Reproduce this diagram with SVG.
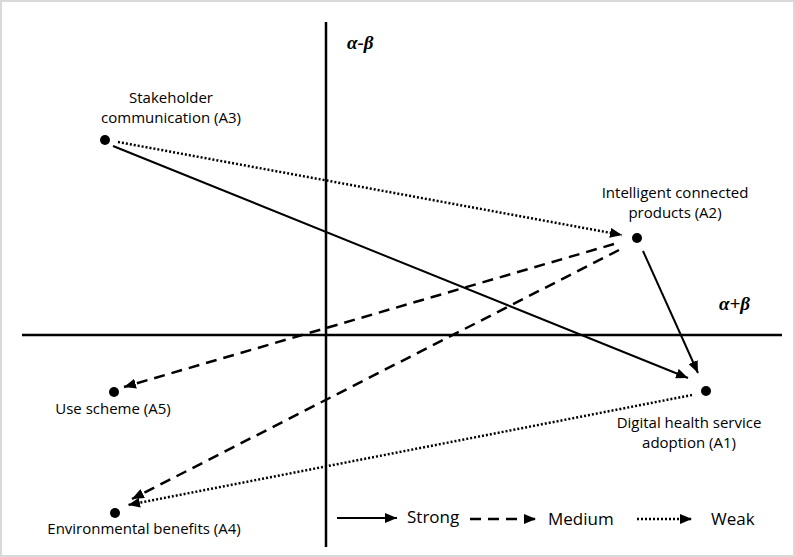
<svg xmlns="http://www.w3.org/2000/svg" width="795" height="557" viewBox="0 0 795 557">
<defs>
<style>
.lbl{font-family:"Open Sans","Liberation Sans",sans-serif;font-size:15px;fill:#000;text-anchor:middle}
.leg{font-family:"Open Sans","Liberation Sans",sans-serif;font-size:17px;fill:#000}
.ax{font-family:"Liberation Serif",serif;font-size:19px;font-weight:bold;font-style:italic;fill:#000}
.axis{stroke:#000;stroke-width:2.5;fill:none}
.strong{stroke:#000;stroke-width:2;fill:none}
.medium{stroke:#000;stroke-width:2.5;fill:none;stroke-dasharray:11 7}
.weak{stroke:#000;stroke-width:2.5;fill:none;stroke-dasharray:2 2}
.dot{fill:#000}
</style>
<marker id="ah" markerUnits="userSpaceOnUse" markerWidth="12" markerHeight="10" viewBox="0 0 12 10" refX="12" refY="5" orient="auto">
<path d="M0,0 L12,5 L0,10 Z" fill="#000"/>
</marker>
</defs>
<rect x="1" y="1" width="793" height="555" fill="#fff" stroke="#d9d9d9" stroke-width="2"/>
<g id="axes">
<line class="axis" x1="326" y1="22" x2="326" y2="547"/>
<line class="axis" x1="22" y1="335" x2="782" y2="335"/>
<text class="ax" x="347" y="49">α-β</text>
<text class="ax" x="719" y="310">α+β</text>
</g>
<g id="connectors">
<line class="strong" x1="113" y1="146" x2="688" y2="378" marker-end="url(#ah)"/>
<line class="weak" x1="118" y1="142" x2="622" y2="235" marker-end="url(#ah)"/>
<line class="strong" x1="643" y1="251" x2="698" y2="373" marker-end="url(#ah)"/>
<line class="medium" x1="614" y1="244" x2="124" y2="387" marker-end="url(#ah)"/>
<line class="medium" x1="619" y1="250" x2="132" y2="499" marker-end="url(#ah)"/>
<line class="weak" x1="692" y1="395" x2="128" y2="505" marker-end="url(#ah)"/>
</g>
<g id="A3">
<circle class="dot" cx="105" cy="140" r="5"/>
<text class="lbl" x="171" y="103">Stakeholder</text>
<text class="lbl" x="171" y="123">communication (A3)</text>
</g>
<g id="A2">
<circle class="dot" cx="637" cy="238" r="5"/>
<text class="lbl" x="675" y="198">Intelligent connected</text>
<text class="lbl" x="675" y="218">products (A2)</text>
</g>
<g id="A1">
<circle class="dot" cx="706" cy="391" r="5"/>
<text class="lbl" x="689" y="428">Digital health service</text>
<text class="lbl" x="689" y="448">adoption (A1)</text>
</g>
<g id="A5">
<circle class="dot" cx="114" cy="392" r="5"/>
<text class="lbl" x="113" y="414">Use scheme (A5)</text>
</g>
<g id="A4">
<circle class="dot" cx="115" cy="513" r="5"/>
<text class="lbl" x="144" y="534">Environmental benefits (A4)</text>
</g>
<g id="legend">
<line class="strong" x1="337" y1="518" x2="397" y2="518" marker-end="url(#ah)"/>
<text class="leg" x="407" y="523">Strong</text>
<line class="medium" x1="470" y1="519" x2="536" y2="519" marker-end="url(#ah)"/>
<text class="leg" x="548" y="525">Medium</text>
<line class="weak" x1="637" y1="519" x2="692" y2="519" marker-end="url(#ah)"/>
<text class="leg" x="711" y="525">Weak</text>
</g>
</svg>
